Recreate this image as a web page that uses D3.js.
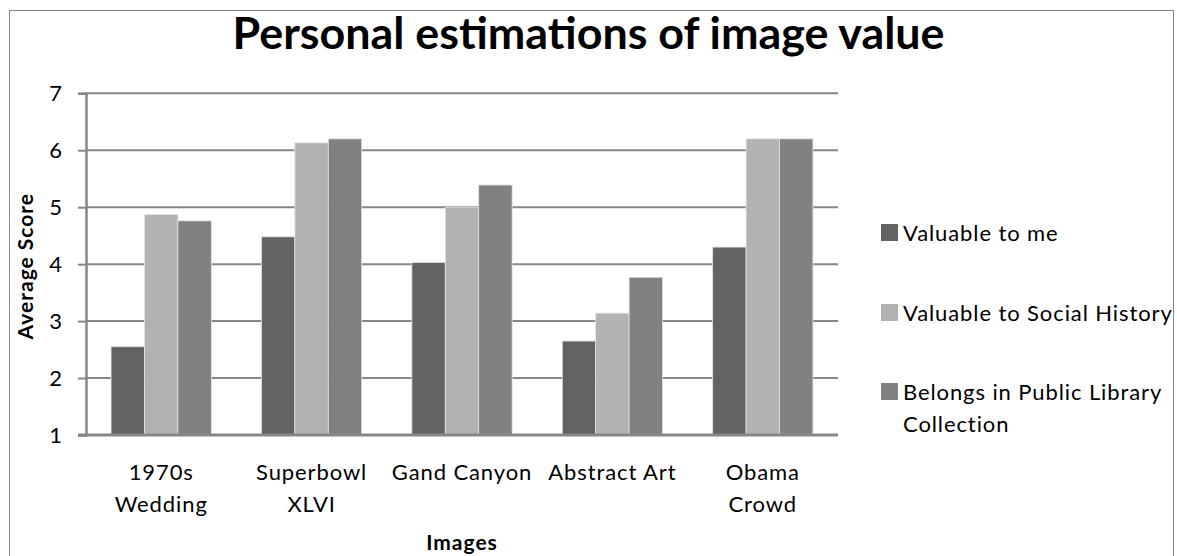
<!DOCTYPE html>
<html>
<head>
<meta charset="utf-8">
<script src="https://cdn.jsdelivr.net/npm/d3@7"></script>
<style>
  html, body { margin: 0; padding: 0; background: #fff; }
  svg text { font-family: Lato, "Open Sans", sans-serif; fill: #000; }
</style>
</head>
<body>
<svg id="chart" width="1177" height="556"></svg>
<script>
// ---- data ----
const categories = ["1970s\nWedding", "Superbowl\nXLVI", "Gand Canyon", "Abstract Art", "Obama\nCrowd"];
const seriesNames = ["Valuable to me", "Valuable to Social History", "Belongs in Public Library\nCollection"];
const valuableToMe = [2.55, 4.48, 4.03, 2.65, 4.30];
const valuableToSocialHistory = [4.87, 6.13, 5.00, 3.14, 6.20];
const belongsInLibrary = [4.76, 6.20, 5.39, 3.77, 6.20];
const yTicks = [1, 2, 3, 4, 5, 6, 7];
const titleText = "Personal estimations of image value";
const xTitle = "Images";
const yTitle = "Average Score";

const seriesValues = [valuableToMe, valuableToSocialHistory, belongsInLibrary];
const colors = ["#636363", "#b2b2b2", "#818181"];

const svg = d3.select("#chart");
const W = 1177, H = 556;
const plot = { left: 86, right: 838, top: 93.3, bottom: 435 };

// outer border
svg.append("rect")
  .attr("x", 9.5).attr("y", 10.5)
  .attr("width", 1164).attr("height", 560)
  .attr("fill", "none").attr("stroke", "#868686").attr("stroke-width", 1);

// title
svg.append("text")
  .attr("x", W / 2).attr("y", 49)
  .attr("text-anchor", "middle")
  .attr("font-size", 43).attr("font-weight", "bold")
  .attr("textLength", 712).attr("lengthAdjust", "spacingAndGlyphs")
  .text(titleText);

const x0 = d3.scaleBand().domain(d3.range(categories.length))
  .range([plot.left, plot.right]).paddingInner(0).paddingOuter(0);
const bw = x0.bandwidth() / 4.5;
const x1 = d3.scaleBand().domain(d3.range(seriesValues.length))
  .range([0.75 * bw, x0.bandwidth() - 0.75 * bw]).padding(0);
const y = d3.scaleLinear().domain([1, 7]).range([plot.bottom, plot.top]);

// gridlines
svg.append("g").selectAll("line").data(yTicks.filter(t => t > 1)).join("line")
  .attr("x1", plot.left).attr("x2", plot.right)
  .attr("y1", d => y(d)).attr("y2", d => y(d))
  .attr("stroke", "#878787").attr("stroke-width", 2);

// y axis
const yAxis = d3.axisLeft(y).tickValues(yTicks).tickSize(8).tickPadding(16).tickFormat(d3.format("d"));
const gy = svg.append("g").attr("transform", `translate(${plot.left},0)`).call(yAxis);
gy.select(".domain").attr("stroke", "#878787").attr("stroke-width", 2.5);
gy.selectAll(".tick line").attr("stroke", "#878787").attr("stroke-width", 2);
gy.selectAll(".tick text").attr("font-size", 22).attr("font-family", "Lato, sans-serif").attr("fill", "#000");

// bars
const groups = svg.append("g").selectAll("g").data(categories).join("g")
  .attr("transform", (d, i) => `translate(${x0(i)},0)`);
groups.selectAll("rect")
  .data((d, i) => seriesValues.map((s, k) => ({ k, v: s[i] })))
  .join("rect")
  .attr("x", d => x1(d.k))
  .attr("width", x1.bandwidth())
  .attr("y", d => y(d.v))
  .attr("height", d => y(1) - y(d.v))
  .attr("fill", d => colors[d.k])
  .attr("stroke", "#e4e4e4").attr("stroke-width", 0.8);

// x axis line
svg.append("line")
  .attr("x1", plot.left - 8).attr("x2", plot.right)
  .attr("y1", plot.bottom).attr("y2", plot.bottom)
  .attr("stroke", "#878787").attr("stroke-width", 3);

// x labels
const xl = svg.append("g").selectAll("text").data(categories).join("text")
  .attr("x", (d, i) => x0(i) + x0.bandwidth() / 2)
  .attr("y", 480)
  .attr("text-anchor", "middle")
  .attr("font-size", 22).attr("letter-spacing", 0.9);
xl.each(function (d) {
  const t = d3.select(this);
  d.split("\n").forEach((line, j) => {
    t.append("tspan").attr("x", t.attr("x")).attr("dy", j === 0 ? 0 : 32).text(line);
  });
});

// axis titles
svg.append("text")
  .attr("x", (plot.left + plot.right) / 2).attr("y", 550)
  .attr("text-anchor", "middle").attr("font-size", 21).attr("font-weight", "bold")
  .attr("letter-spacing", 1)
  .text(xTitle);
svg.append("text")
  .attr("transform", `translate(33,${(plot.top + plot.bottom) / 2 + 2}) rotate(-90)`)
  .attr("text-anchor", "middle").attr("font-size", 21).attr("font-weight", "bold")
  .attr("letter-spacing", 1)
  .text(yTitle);

// legend
const legendBaselines = [241, 321, 400];
const lg = svg.append("g").selectAll("g").data(seriesNames).join("g");
lg.append("rect")
  .attr("x", 881).attr("y", (d, i) => legendBaselines[i] - 17)
  .attr("width", 17).attr("height", 17)
  .attr("fill", (d, i) => colors[i]);
lg.append("text")
  .attr("x", 903).attr("y", (d, i) => legendBaselines[i])
  .attr("font-size", 22).attr("letter-spacing", 0.9)
  .each(function (d) {
    const t = d3.select(this);
    d.split("\n").forEach((line, j) => {
      t.append("tspan").attr("x", 903).attr("dy", j === 0 ? 0 : 32).text(line);
    });
  });
</script>
</body>
</html>
